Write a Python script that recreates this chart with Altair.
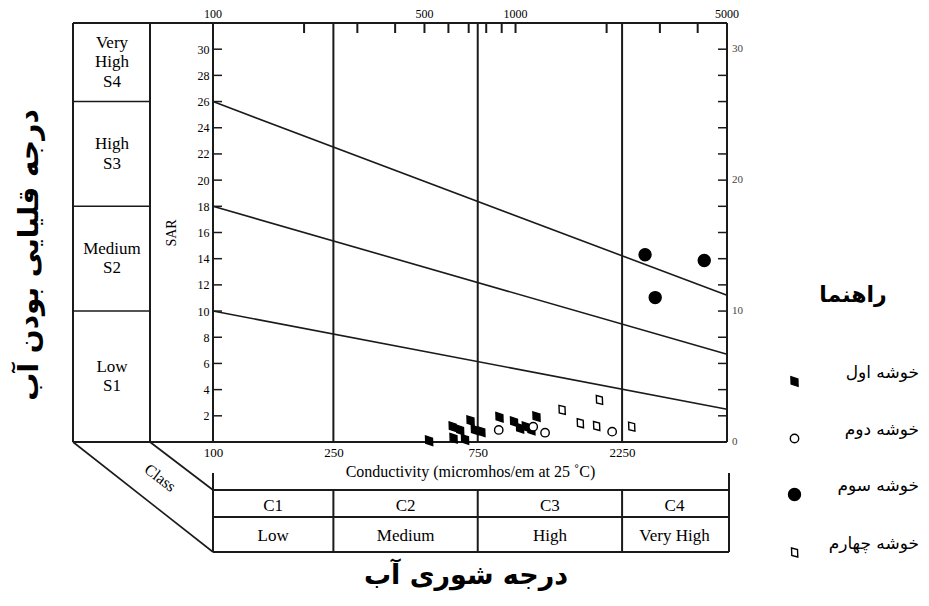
import math
import altair as alt
import pandas as pd

# ---------------- data ----------------
cluster_names = ["خوشه اول", "خوشه دوم", "خوشه سوم", "خوشه چهارم"]

c1_ec = [518, 620, 624, 656, 681, 710, 734, 771, 885, 989, 1035, 1082, 1128, 1173]
c1_sar = [0.1, 1.17, 0.28, 0.92, 0.2, 1.63, 0.92, 0.79, 1.89, 1.55, 1.05, 1.17, 0.92, 1.94]
c2_ec = [880, 1144, 1252, 2086]
c2_sar = [0.92, 1.17, 0.71, 0.79]
c3_ec = [2680, 2895, 4205]
c3_sar = [14.3, 11.03, 13.86]
c4_ec = [1424, 1636, 1852, 1892, 2419]
c4_sar = [2.45, 1.43, 1.22, 3.21, 1.17]

# sodium-hazard boundary lines (end points)
line_ec = [100, 5000]
line_s34 = [26, 11.2]
line_s23 = [18, 6.7]
line_s12 = [10, 2.5]

class_bounds = [100, 250, 750, 2250, 5000]
c_class = ["C1", "C2", "C3", "C4"]
c_desc = ["Low", "Medium", "High", "Very High"]
s_bounds = [0, 10, 18, 26, 32]
s_labels = ["Low\nS1", "Medium\nS2", "High\nS3", "Very\nHigh\nS4"]

sar_ticks = [2, 4, 6, 8, 10, 12, 14, 16, 18, 20, 22, 24, 26, 28, 30]
right_labels = [0, 10, 20, 30]
top_ticks = [200, 300, 400, 500, 600, 700, 800, 900, 1000, 2000, 3000, 4000]
top_labels = [100, 500, 1000, 5000]
bottom_labels = [100, 250, 750, 2250]

# ---------------- style ----------------
W, H = 514, 419
SERIF = "Liberation Serif"
FA = "DejaVu Sans"
INK = "#1a1a1a"
xs = alt.Scale(type="log", domain=[100, 5000], nice=False)
ys = alt.Scale(domain=[0, 32], nice=False, zero=False)

leaf = "M -0.6 -0.8 L 0.56 -0.42 L 0.6 0.8 L -0.56 0.42 Z"
ring = "M 0.7 0 A 0.7 0.7 0 1 1 -0.7 0 A 0.7 0.7 0 1 1 0.7 0 Z"
small_leaf = "M -0.5 -0.75 L 0.5 -0.5 L 0.55 0.75 L -0.45 0.5 Z"

bottom_axis = alt.Axis(
    orient="bottom", values=bottom_labels, format="d", ticks=False, domain=False, grid=False,
    labelFlush=False, labelOverlap=False, labelPadding=4, labelFont=SERIF, labelFontSize=13,
    labelColor="black", title="Conductivity (micromhos/em at 25 ˚C)", titleFont=SERIF,
    titleFontSize=16, titleFontWeight="normal", titleColor="black", titlePadding=4,
)
left_axis = alt.Axis(
    orient="left", values=sar_ticks, ticks=False, domain=False, grid=False,
    labelFont=SERIF, labelFontSize=12, labelColor="black", labelPadding=4,
    title="SAR", titleFont=SERIF, titleFontSize=14, titleFontWeight="normal",
    titleColor="black", titlePadding=19,
)


def X(field):
    return alt.X(field, scale=xs, axis=bottom_axis)


def Y(field):
    return alt.Y(field, scale=ys, axis=left_axis)


pts = pd.DataFrame({
    "ec": c1_ec + c2_ec + c3_ec + c4_ec,
    "sar": c1_sar + c2_sar + c3_sar + c4_sar,
    "cluster": [cluster_names[0]] * len(c1_ec) + [cluster_names[1]] * len(c2_ec)
    + [cluster_names[2]] * len(c3_ec) + [cluster_names[3]] * len(c4_ec),
})

lines = pd.DataFrame({
    "ec": line_ec * 3,
    "sar": line_s34 + line_s23 + line_s12,
    "id": ["a", "a", "b", "b", "c", "c"],
})

leg = alt.Legend(
    title="راهنما", orient="none", legendX=573, legendY=262, direction="vertical",
    titleFont=FA, titleFontSize=22, titleFontWeight="bold", titleColor="black",
    titleAnchor="middle", titlePadding=66,
    labelFont=FA, labelFontSize=17, labelColor="black", labelAlign="right",
    labelOffset=116, labelLimit=300, labelBaseline="bottom",
    rowPadding=30, symbolSize=144, symbolStrokeColor="black", symbolStrokeWidth=1.4,
    padding=0,
)

points = alt.Chart(pts).mark_point(
    filled=True, size=144, strokeWidth=1.4, opacity=1
).encode(
    x=X("ec:Q"),
    y=Y("sar:Q"),
    shape=alt.Shape("cluster:N", scale=alt.Scale(domain=cluster_names,
                    range=[leaf, ring, "circle", small_leaf]), legend=leg),
    fill=alt.Fill("cluster:N", scale=alt.Scale(domain=cluster_names,
                  range=["black", "white", "black", "white"]), legend=leg),
    stroke=alt.Stroke("cluster:N", scale=alt.Scale(domain=cluster_names,
                      range=["black", "black", "black", "black"]), legend=leg),
)

hazard = alt.Chart(lines).mark_line(color=INK, strokeWidth=1.6).encode(
    x=X("ec:Q"), y=Y("sar:Q"), detail="id:N",
)

vlines = alt.Chart(pd.DataFrame({"ec": class_bounds[1:4]})).mark_rule(
    color=INK, strokeWidth=2
).encode(x=X("ec:Q"), y=alt.value(0), y2=alt.value(H))

left_ticks = alt.Chart(pd.DataFrame({"sar": sar_ticks})).mark_rule(
    color=INK, strokeWidth=1.5
).encode(y=Y("sar:Q"), x=alt.value(0), x2=alt.value(9))

right_ticks = alt.Chart(pd.DataFrame({"sar": sar_ticks})).mark_rule(
    color=INK, strokeWidth=1.5
).encode(y=Y("sar:Q"), x=alt.value(W - 9), x2=alt.value(W))

top_tick_marks = alt.Chart(pd.DataFrame({"ec": top_ticks})).mark_rule(
    color=INK, strokeWidth=2
).encode(x=X("ec:Q"), y=alt.value(0), y2=alt.value(10))

top_text = alt.Chart(pd.DataFrame({"ec": top_labels})).mark_text(
    font=SERIF, fontSize=12, color="black", align="center", baseline="middle"
).encode(x=X("ec:Q"), y=alt.value(-9), text=alt.Text("ec:Q", format="d"))

right_text = alt.Chart(pd.DataFrame({"sar": right_labels})).mark_text(
    font=SERIF, fontSize=11, color="#444", align="left", baseline="middle"
).encode(y=Y("sar:Q"), x=alt.value(W + 5), text=alt.Text("sar:Q", format="d"))

s_div = alt.Chart(pd.DataFrame({"sar": s_bounds[1:4]})).mark_rule(
    color=INK, strokeWidth=1.6
).encode(y=Y("sar:Q"), x=alt.value(-140), x2=alt.value(-63))

s_texts = []
for i in range(4):
    n_lines = s_labels[i].count("\n") + 1
    s_texts.append(
        alt.Chart(pd.DataFrame({"sar": [(s_bounds[i] + s_bounds[i + 1]) / 2],
                                "t": [s_labels[i]]})).mark_text(
            lineBreak="\n", lineHeight=19.5, font=SERIF, fontSize=17, color="black",
            align="center", baseline="middle", dy=-(n_lines - 1) * 9.75
        ).encode(y=Y("sar:Q"), x=alt.value(-101), text="t:N")
    )

col_df = pd.DataFrame({
    "ec": [math.sqrt(class_bounds[i] * class_bounds[i + 1]) for i in range(4)],
    "cls": c_class, "desc": c_desc,
})
c_text1 = alt.Chart(col_df).mark_text(
    font=SERIF, fontSize=17, color="black", align="center", baseline="middle"
).encode(x=X("ec:Q"), y=alt.value(483), text="cls:N")
c_text2 = alt.Chart(col_df).mark_text(
    font=SERIF, fontSize=17, color="black", align="center", baseline="middle"
).encode(x=X("ec:Q"), y=alt.value(513), text="desc:N")

col_lines = alt.Chart(pd.DataFrame({"ec": class_bounds[1:4]})).mark_rule(
    color=INK, strokeWidth=2
).encode(x=X("ec:Q"), y=alt.value(467), y2=alt.value(529))


def seg(x1, y1, x2, y2, w=2.0):
    return alt.Chart().mark_rule(color=INK, strokeWidth=w).encode(
        x=alt.value(x1), y=alt.value(y1), x2=alt.value(x2), y2=alt.value(y2))


frame = [
    seg(-140, 0, W, 0),          # top edge
    seg(-140, H, W, H),          # bottom edge
    seg(-140, 0, -140, H),       # S panel left
    seg(-63, 0, -63, H),         # S panel right
    seg(0, 0, 0, H),             # left axis line
    seg(W, 0, W, H),             # right axis line
    seg(-140, H, 0, 529, 1.6),   # oblique outer
    seg(-63, H, 0, 467, 1.6),    # oblique inner
    seg(0, 450, 0, 529),         # table left
    seg(516, 450, 516, 529),     # table right
    seg(0, 467, 516, 467),
    seg(0, 494, 516, 494),
    seg(0, 529, 516, 529),
]

class_word = alt.Chart().mark_text(
    text="Class", font=SERIF, fontSize=16, color="black", angle=37,
    align="center", baseline="middle"
).encode(x=alt.value(-53), y=alt.value(455))

fa_left = alt.Chart().mark_text(
    text="درجه قلیایی بودن آب", font=FA, fontSize=28, fontWeight="bold",
    color="black", angle=270, align="center", baseline="middle"
).encode(x=alt.value(-183), y=alt.value(232))

fa_bottom = alt.Chart().mark_text(
    text="درجه شوری آب", font=FA, fontSize=27, fontWeight="bold",
    color="black", align="center", baseline="middle"
).encode(x=alt.value(253), y=alt.value(553))

chart = alt.layer(
    vlines, hazard, left_ticks, right_ticks, top_tick_marks, top_text, right_text,
    s_div, *s_texts, col_lines, c_text1, c_text2, *frame,
    class_word, fa_left, fa_bottom, points,
).properties(
    width=W, height=H,
    autosize=alt.AutoSizeParams(type="none"),
    padding={"left": 205, "top": 15, "right": 194, "bottom": 150},
).configure_view(strokeWidth=0)

chart.save("out.html", embed_options={"renderer": "svg", "actions": False})
